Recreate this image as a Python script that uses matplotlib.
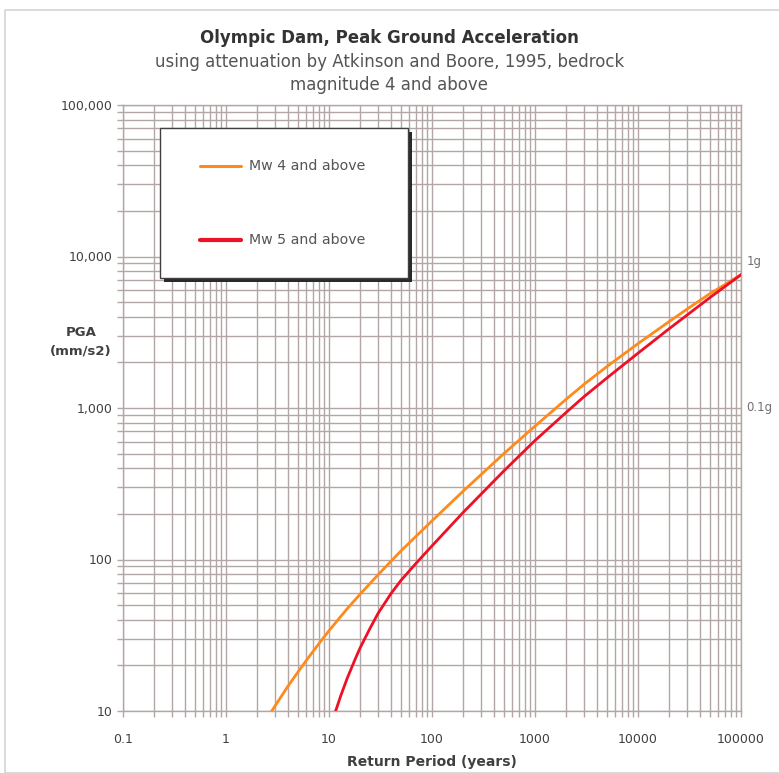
import numpy as np
import matplotlib
matplotlib.use("Agg")
import matplotlib.pyplot as plt
from matplotlib.patches import Rectangle
from matplotlib.lines import Line2D
from matplotlib.ticker import FixedLocator, LogLocator, NullFormatter

# Return period (years) vs PGA (mm/s2)
period_mw4 = [2.78, 3.5, 4, 5, 6, 8, 10, 15, 20, 30, 50, 100, 200, 500,
              1000, 2000, 3000, 5000, 10000, 20000, 30000, 50000, 100000]
pga_mw4 = [10, 12.7, 14.6, 18.1, 21.5, 27.9, 33.9, 47.3, 58.9, 79.4, 114, 180, 282, 501,
           759, 1140, 1435, 1880, 2660, 3715, 4500, 5690, 7580]

period_mw5 = [11.6, 13, 15, 18, 20, 25, 30, 40, 50, 70, 100, 200, 500,
              1000, 2000, 3000, 5000, 10000, 20000, 30000, 50000, 100000]
pga_mw5 = [10, 12.6, 16.4, 22.1, 26.0, 35.1, 44.2, 59.6, 72.8, 94.4, 123, 204, 385,
           610, 933, 1190, 1580, 2300, 3330, 4110, 5360, 7580]

series_names = ["Mw 4 and above", "Mw 5 and above"]

x_ticks = [0.1, 1, 10, 100, 1000, 10000, 100000]
x_labels = ["0.1", "1", "10", "100", "1000", "10000", "100000"]
y_ticks = [10, 100, 1000, 10000, 100000]
y_labels = ["10", "100", "1,000", "10,000", "100,000"]

g_levels = [9810, 981]
g_labels = ["1g", "0.1g"]

C_MW4 = "#ff8a1c"
C_MW5 = "#ee1025"
C_GRID = "#b3a6a6"
C_TEXT = "#404040"

fig = plt.figure(figsize=(7.79, 7.73), dpi=100)
fig.patches.append(Rectangle((5 / 779, 0), 1, 1 - 10 / 773, transform=fig.transFigure,
                             fill=False, edgecolor="#d4d4d4", lw=1.2))

ax = fig.add_axes([123 / 779, 62 / 773, 618 / 779, 606 / 773])
ax.set_xscale("log")
ax.set_yscale("log")
ax.set_xlim(0.1, 100000)
ax.set_ylim(10, 100000)

ax.plot(period_mw4, pga_mw4, color=C_MW4, lw=2.0, zorder=3, solid_joinstyle="round")
ax.plot(period_mw5, pga_mw5, color=C_MW5, lw=2.0, zorder=3, solid_joinstyle="round")

ax.xaxis.set_major_locator(FixedLocator(x_ticks))
ax.set_xticklabels(x_labels)
ax.yaxis.set_major_locator(FixedLocator(y_ticks))
ax.set_yticklabels(y_labels)
ax.xaxis.set_minor_locator(LogLocator(base=10, subs=np.arange(2, 10)))
ax.yaxis.set_minor_locator(LogLocator(base=10, subs=np.arange(2, 10)))
ax.xaxis.set_minor_formatter(NullFormatter())
ax.yaxis.set_minor_formatter(NullFormatter())

ax.grid(True, which="both", color=C_GRID, lw=1.0)
ax.set_axisbelow(True)
ax.tick_params(which="both", direction="out", color=C_GRID, labelsize=9,
               labelcolor=C_TEXT, length=4, width=1)
ax.tick_params(axis="x", which="both", pad=12)
for s in ax.spines.values():
    s.set_color(C_GRID)
    s.set_linewidth(1.0)

# g reference labels on the right edge
for lvl, lab, dy in zip(g_levels, g_labels, [-3, 1.5]):
    ax.annotate(lab, xy=(1, lvl), xycoords=("axes fraction", "data"),
                xytext=(4, dy), textcoords="offset points", fontsize=8.5,
                color="#707070", va="center", ha="left")

ax.set_xlabel("Return Period (years)", fontsize=10, fontweight="bold", color=C_TEXT, labelpad=6)
fig.text(81 / 779, 1 - 342 / 773, "PGA\n(mm/s2)", fontsize=9.5, fontweight="bold",
         color=C_TEXT, ha="center", va="center", linespacing=1.6)

fig.text(0.5, 1 - 38 / 773, "Olympic Dam, Peak Ground Acceleration", fontsize=12,
         fontweight="bold", color="#333333", ha="center", va="center")
fig.text(0.5, 1 - 62 / 773, "using attenuation by Atkinson and Boore, 1995, bedrock",
         fontsize=12, color="#555555", ha="center", va="center")
fig.text(0.5, 1 - 85 / 773, "magnitude 4 and above", fontsize=12, color="#555555",
         ha="center", va="center")

# legend box with drop shadow, in axes fraction
lx0, lx1 = 37 / 618, 285 / 618
ly0, ly1 = 1 - 173 / 606, 1 - 23 / 606
sdx, sdy = 4 / 618, 4 / 606
ax.add_patch(Rectangle((lx0 + sdx, ly0 - sdy), lx1 - lx0, ly1 - ly0, transform=ax.transAxes,
                       facecolor="#2a2a2a", edgecolor="none", zorder=5))
ax.add_patch(Rectangle((lx0, ly0), lx1 - lx0, ly1 - ly0, transform=ax.transAxes,
                       facecolor="white", edgecolor="#404040", lw=1.0, zorder=6))
for name, col, lw, yy in zip(series_names, [C_MW4, C_MW5], [2.2, 3.0],
                             [1 - 61 / 606, 1 - 135 / 606]):
    ax.add_line(Line2D([77 / 618, 118 / 618], [yy, yy], transform=ax.transAxes,
                       color=col, lw=lw, zorder=7, solid_capstyle="round"))
    ax.text(126 / 618, yy, name, transform=ax.transAxes, fontsize=10.2,
            color="#555555", va="center", ha="left", zorder=7)

fig.savefig("out.png", dpi=100)
